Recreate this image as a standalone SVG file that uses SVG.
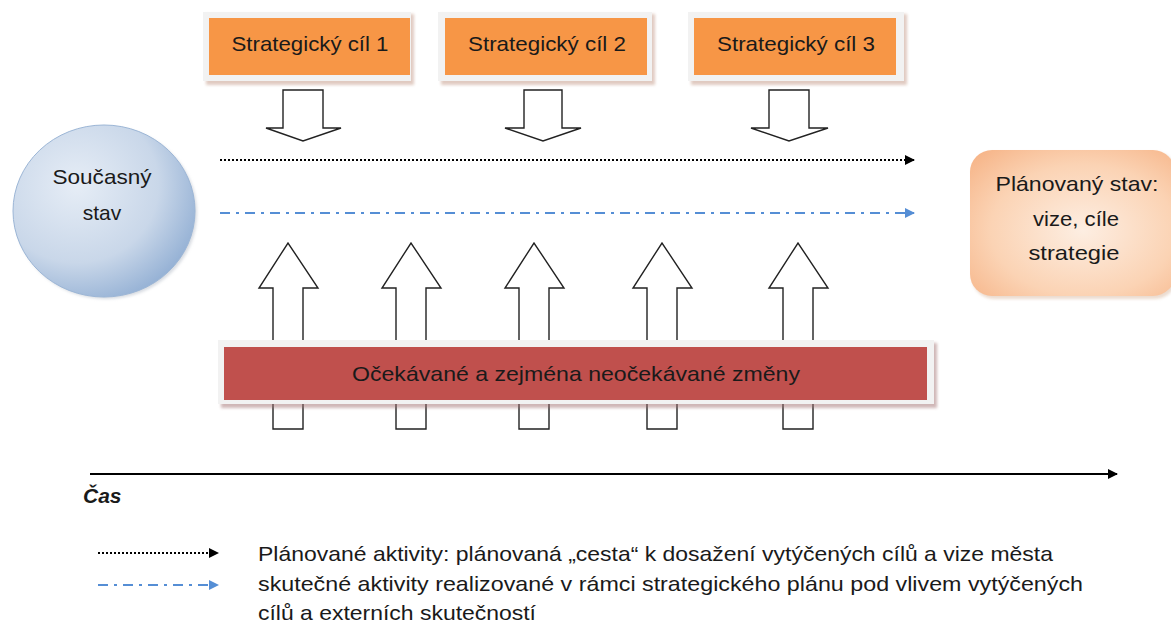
<svg xmlns="http://www.w3.org/2000/svg" width="1171" height="627" viewBox="0 0 1171 627">
<style>
text{font-family:"Liberation Sans",Arial,sans-serif;fill:#1a1a1a}
.lbl{font-size:21px;text-anchor:middle}
.frame{fill:#f2f2f2}
.shadow{fill:#c8a090;opacity:.55}
.blk{fill:#fff;stroke:#222;stroke-width:1.4;stroke-linejoin:miter}
.leg{font-size:21px}
</style>
<defs>
<radialGradient id="gc" cx="35%" cy="35%" r="75%">
<stop offset="0" stop-color="#e6edf6"/>
<stop offset="0.6" stop-color="#c9d7e9"/>
<stop offset="1" stop-color="#8eacd2"/>
</radialGradient>
<radialGradient id="go" cx="55%" cy="55%" r="75%">
<stop offset="0" stop-color="#fdeee2"/>
<stop offset="0.6" stop-color="#fbd3b4"/>
<stop offset="1" stop-color="#f6b386"/>
</radialGradient>
<filter id="soft" x="-10%" y="-10%" width="120%" height="120%">
<feGaussianBlur stdDeviation="1.5"/>
</filter>
<marker id="ab" viewBox="0 0 10 10" refX="9" refY="5" markerWidth="5" markerHeight="5" orient="auto" markerUnits="strokeWidth">
<path d="M0,0 L10,5 L0,10 Z" fill="#000"/>
</marker>
<marker id="au" viewBox="0 0 10 10" refX="9" refY="5" markerWidth="5" markerHeight="5" orient="auto" markerUnits="strokeWidth">
<path d="M0,0 L10,5 L0,10 Z" fill="#558ed5"/>
</marker>
</defs>

<g id="goal1">
<rect x="206" y="14" width="208" height="71" class="shadow" filter="url(#soft)"/>
<rect x="203" y="12" width="208" height="69" class="frame"/>
<rect x="209" y="18" width="201" height="57" fill="#f79646"/>
<text x="310" y="51" class="lbl" textLength="157" lengthAdjust="spacingAndGlyphs">Strategický cíl 1</text>
</g>
<g id="goal2">
<rect x="441" y="14" width="214" height="71" class="shadow" filter="url(#soft)"/>
<rect x="438" y="12" width="214" height="69" class="frame"/>
<rect x="445" y="18" width="202" height="57" fill="#f79646"/>
<text x="547" y="51" class="lbl" textLength="158" lengthAdjust="spacingAndGlyphs">Strategický cíl 2</text>
</g>
<g id="goal3">
<rect x="691" y="14" width="216" height="71" class="shadow" filter="url(#soft)"/>
<rect x="688" y="12" width="216" height="69" class="frame"/>
<rect x="694" y="18" width="202" height="57" fill="#f79646"/>
<text x="796" y="51" class="lbl" textLength="158" lengthAdjust="spacingAndGlyphs">Strategický cíl 3</text>
</g>

<g id="current">
<ellipse cx="106" cy="213" rx="91" ry="86" fill="#b0b8c4" opacity=".5" filter="url(#soft)"/>
<ellipse cx="104" cy="211" rx="91" ry="86" fill="url(#gc)" stroke="#9cb6d6" stroke-width="1"/>
<text x="102" y="184" class="lbl" font-size="22" textLength="99" lengthAdjust="spacingAndGlyphs">Současný</text>
<text x="102" y="220" class="lbl" font-size="22">stav</text>
</g>

<g id="planned">
<rect x="972" y="152" width="205" height="147" rx="22" fill="#d8b8a0" opacity=".5" filter="url(#soft)"/>
<rect x="970" y="150" width="205" height="146" rx="22" fill="url(#go)"/>
<text x="1077" y="191" class="lbl" font-size="22" textLength="163" lengthAdjust="spacingAndGlyphs">Plánovaný stav:</text>
<text x="1076" y="226" class="lbl" font-size="22" textLength="86" lengthAdjust="spacingAndGlyphs">vize, cíle</text>
<text x="1074" y="260" class="lbl" font-size="22" textLength="91" lengthAdjust="spacingAndGlyphs">strategie</text>
</g>

<g id="down-arrows">
<path class="blk" d="M283,90 H323 V128 H341 L303,141 L266,128 H283 Z"/>
<path class="blk" d="M524,90 H562 V128 H581 L543,141 L505,128 H524 Z"/>
<path class="blk" d="M769,90 H809 V128 H828 L789,141 L751,128 H769 Z"/>
</g>

<g id="up-arrows">
<path class="blk" d="M273,429 V288 H259 L288,243 L318,288 H303 V429 Z"/>
<path class="blk" d="M396,429 V288 H382 L411,243 L441,288 H426 V429 Z"/>
<path class="blk" d="M519,429 V288 H505 L534,243 L564,288 H549 V429 Z"/>
<path class="blk" d="M647,429 V288 H633 L662,243 L692,288 H677 V429 Z"/>
<path class="blk" d="M783,429 V288 H769 L798,243 L828,288 H813 V429 Z"/>
</g>

<g id="changes">
<rect x="221" y="343" width="716" height="65" fill="#a07070" opacity=".5" filter="url(#soft)"/>
<rect x="218" y="340" width="716" height="64" class="frame"/>
<rect x="224" y="347" width="703" height="53" fill="#c0504d"/>
<text x="576" y="381" class="lbl" textLength="448" lengthAdjust="spacingAndGlyphs">Očekávané a zejména neočekávané změny</text>
</g>

<g id="connectors">
<line x1="220" y1="160" x2="914" y2="160" stroke="#000" stroke-width="2" stroke-dasharray="2 2" marker-end="url(#ab)"/>
<line x1="220" y1="213" x2="914" y2="213" stroke="#558ed5" stroke-width="2" stroke-dasharray="10 6 3 6" marker-end="url(#au)"/>
<line x1="90" y1="474" x2="1117" y2="474" stroke="#000" stroke-width="2" marker-end="url(#ab)"/>
<line x1="98" y1="553" x2="218" y2="553" stroke="#000" stroke-width="2" stroke-dasharray="2 2" marker-end="url(#ab)"/>
<line x1="98" y1="585" x2="218" y2="585" stroke="#558ed5" stroke-width="2" stroke-dasharray="10 6 3 6" marker-end="url(#au)"/>
</g>

<g id="time-label">
<text x="83" y="503" font-size="21" font-weight="bold" font-style="italic">Čas</text>
</g>

<g id="legend">
<text x="258" y="561" class="leg" textLength="795" lengthAdjust="spacingAndGlyphs">Plánované aktivity: plánovaná „cesta“ k dosažení vytýčených cílů a vize města</text>
<text x="258" y="591" class="leg" textLength="825" lengthAdjust="spacingAndGlyphs">skutečné aktivity realizované v rámci strategického plánu pod vlivem vytýčených</text>
<text x="258" y="620" class="leg" textLength="278" lengthAdjust="spacingAndGlyphs">cílů a externích skutečností</text>
</g>
</svg>
